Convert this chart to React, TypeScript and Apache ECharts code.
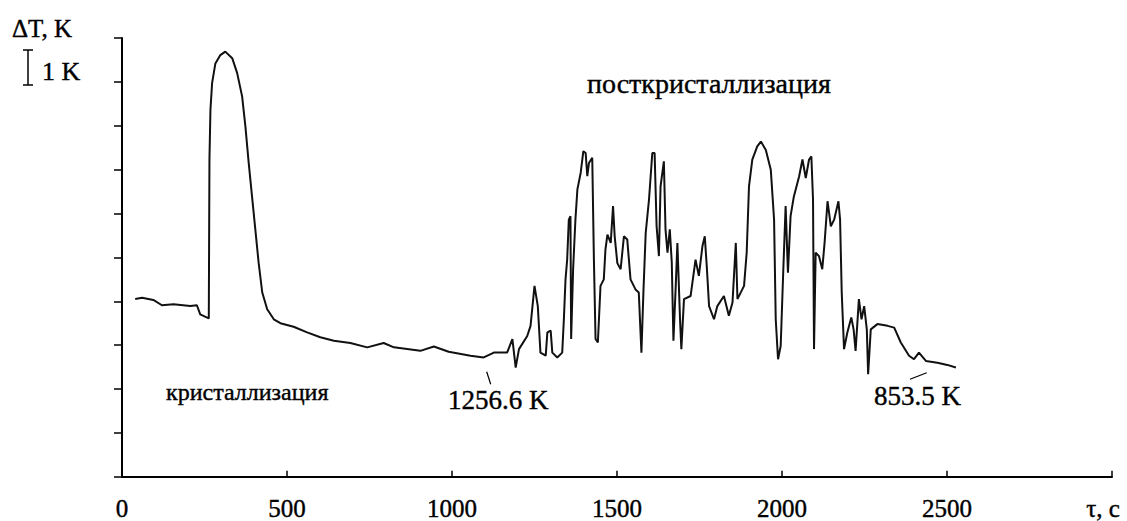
import React, { useEffect, useRef } from "react";
import * as echarts from "echarts";

// time, s
const tau: number[] = [
  40, 61, 95, 121, 156, 207, 227, 237, 263, 265, 268, 273, 283, 298, 313, 334, 349, 364, 374, 384,
  394, 404, 414, 425, 440, 460, 480, 520, 561, 601, 642, 692, 743, 793, 824, 904, 945, 990, 1056, 1096,
  1127, 1167, 1183, 1193, 1203, 1228, 1238, 1250, 1260, 1268, 1284, 1289, 1299, 1304, 1319, 1334, 1339, 1344, 1349, 1354,
  1359, 1361, 1367, 1374, 1380, 1390, 1398, 1405, 1410, 1415, 1425, 1430, 1435, 1442, 1450, 1460, 1465, 1471, 1481, 1488,
  1493, 1501, 1511, 1521, 1531, 1541, 1556, 1566, 1574, 1580, 1587, 1597, 1607, 1614, 1620, 1627, 1632, 1642, 1647, 1653,
  1660, 1666, 1671, 1678, 1683, 1691, 1695, 1703, 1723, 1738, 1748, 1759, 1766, 1772, 1779, 1794, 1804, 1824, 1839, 1850,
  1860, 1865, 1885, 1893, 1900, 1910, 1925, 1936, 1951, 1966, 1976, 1981, 1988, 1996, 2004, 2011, 2018, 2026, 2036, 2052,
  2062, 2072, 2082, 2089, 2094, 2097, 2102, 2112, 2122, 2129, 2138, 2148, 2158, 2171, 2176, 2181, 2188, 2198, 2210, 2217,
  2223, 2233, 2241, 2249, 2257, 2261, 2269, 2289, 2320, 2340, 2360, 2385, 2400, 2415, 2436, 2471, 2501, 2527
];

// ΔT, arbitrary offset in K (1 tick = 1 K)
const dT: number[] = [
  4.05, 4.08, 4.03, 3.91, 3.93, 3.89, 3.91, 3.70, 3.61, 7.23, 8.36, 8.97, 9.42, 9.61, 9.69, 9.54, 9.20, 8.67, 7.98, 7.15,
  6.39, 5.64, 4.88, 4.20, 3.82, 3.59, 3.50, 3.42, 3.29, 3.18, 3.10, 3.05, 2.95, 3.05, 2.95, 2.87, 2.97, 2.85, 2.76, 2.72,
  2.83, 2.83, 3.14, 2.49, 2.91, 3.21, 3.44, 4.35, 3.89, 2.83, 2.76, 3.29, 3.33, 2.83, 2.72, 2.83, 3.59, 4.50, 4.95, 5.86,
  5.94, 3.14, 4.73, 5.86, 6.55, 6.93, 7.42, 7.38, 6.85, 7.15, 7.27, 4.95, 3.14, 3.06, 4.35, 4.50, 5.18, 5.52, 5.33, 6.17,
  5.48, 4.87, 4.73, 5.48, 5.41, 4.50, 4.27, 4.20, 2.83, 4.20, 5.56, 6.32, 7.38, 7.38, 5.71, 5.03, 6.62, 7.19, 5.64, 5.11,
  5.64, 4.88, 3.10, 4.35, 5.33, 3.59, 2.91, 4.05, 4.12, 4.95, 4.58, 5.26, 5.48, 4.80, 3.89, 3.59, 3.89, 4.12, 3.67, 3.97,
  5.33, 4.05, 4.35, 5.11, 6.62, 7.23, 7.53, 7.64, 7.45, 7.00, 5.86, 3.59, 2.68, 2.98, 4.73, 6.17, 4.65, 5.94, 6.39, 6.85,
  7.23, 6.81, 7.23, 7.30, 6.32, 2.91, 5.11, 5.03, 4.73, 5.33, 6.28, 5.71, 5.86, 6.28, 5.86, 4.20, 2.91, 3.29, 3.63, 3.36,
  2.87, 4.05, 3.59, 3.89, 3.36, 2.34, 3.36, 3.48, 3.44, 3.40, 3.06, 2.76, 2.68, 2.83, 2.64, 2.60, 2.55, 2.49
];

const xTicks: number[] = [0, 500, 1000, 1500, 2000, 2500, 3000];
const xAxisName = "τ, c";
const yAxisName = "ΔT, K";
const scaleLabel = "1 K";
const labelCryst = "кристаллизация";
const labelPost = "посткристаллизация";
const labelStart = "1256.6 K";
const labelEnd = "853.5 K";

const FONT = "Liberation Serif";

const txt = (text: string, x: number, y: number, size: number) => ({
  type: "text",
  x,
  y,
  style: {
    text,
    fontFamily: FONT,
    fontSize: size,
    fill: "#000",
    stroke: "#000",
    lineWidth: 0.4,
    align: "left",
    verticalAlign: "middle",
  },
});

const seg = (x1: number, y1: number, x2: number, y2: number, w: number) => ({
  type: "line",
  shape: { x1, y1, x2, y2 },
  style: { stroke: "#000", lineWidth: w },
});

export default function App() {
  const ref = useRef<HTMLDivElement>(null);
  useEffect(() => {
    document.body.style.margin = "0";
    if (!ref.current) return;
    const chart = echarts.init(ref.current, undefined, { renderer: "svg" });
    const data = tau.map((t, i) => [t, dT[i]]);
    chart.setOption({
      animation: false,
      backgroundColor: "#fff",
      grid: { left: 122, right: 15, top: 38, bottom: 44 },
      xAxis: {
        type: "value",
        min: xTicks[0],
        max: xTicks[xTicks.length - 1],
        interval: 500,
        axisLine: { lineStyle: { color: "#000", width: 2 } },
        axisTick: { inside: true, length: 6, lineStyle: { color: "#000", width: 1.5 } },
        splitLine: { show: false },
        axisLabel: {
          color: "#000",
          fontFamily: FONT,
          fontSize: 25,
          margin: 19,
          textBorderColor: "#000",
          textBorderWidth: 0.4,
          showMaxLabel: true,
          formatter: (v: number) => (v === 3000 ? "{u|" + xAxisName + "}" : String(v)),
          rich: {
            u: {
              fontFamily: FONT,
              fontSize: 25,
              color: "#000",
              textBorderColor: "#000",
              textBorderWidth: 0.4,
              padding: [0, 18, 0, 0],
            },
          },
        },
      },
      yAxis: {
        type: "value",
        min: 0,
        max: 10,
        interval: 1,
        axisLine: { show: true, lineStyle: { color: "#000", width: 2 } },
        axisTick: { show: true, inside: false, length: 8, lineStyle: { color: "#000", width: 1.5 } },
        axisLabel: { show: false },
        splitLine: { show: false },
      },
      series: [
        {
          type: "line",
          data,
          showSymbol: false,
          symbol: "none",
          lineStyle: { color: "#111", width: 2 },
        },
      ],
      graphic: [
        txt(yAxisName, 12, 28, 25),
        seg(28, 50, 28, 85, 1.5),
        seg(23, 50, 33, 50, 1.5),
        seg(23, 85, 33, 85, 1.5),
        txt(scaleLabel, 42, 71, 26),
        txt(labelCryst, 166, 392, 24),
        txt(labelPost, 587, 83, 28),
        seg(486.7, 371.7, 490.7, 384.3, 1.2),
        txt(labelStart, 448, 400, 27),
        seg(910, 379.3, 926.7, 372.7, 1.2),
        txt(labelEnd, 874, 396, 27),
      ],
    });
    return () => chart.dispose();
  }, []);
  return <div ref={ref} style={{ width: 1127, height: 521 }} />;
}
